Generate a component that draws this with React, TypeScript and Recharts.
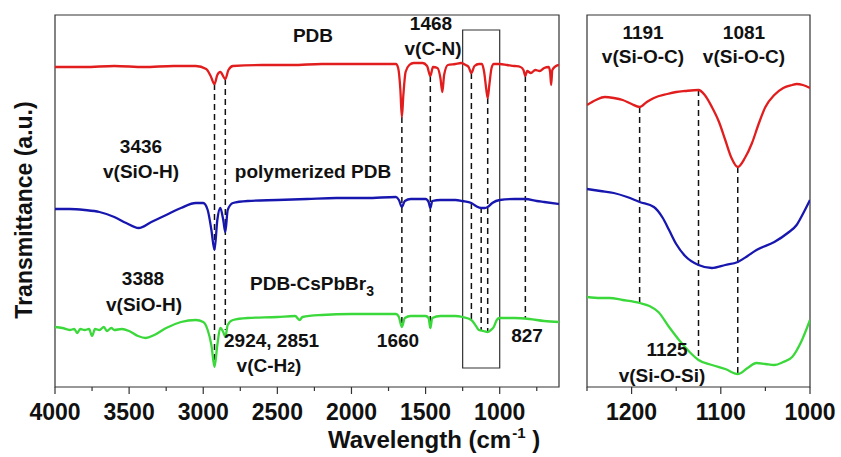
import { LineChart, Line, XAxis, YAxis, ReferenceArea, ReferenceLine } from 'recharts';

// FTIR spectra, wavenumber (cm-1) vs transmittance (a.u., offset per trace)
const pdbFull = [
  [4000, 320], [3800, 320], [3600, 321], [3400, 320], [3200, 321], [3050, 321], [2980, 318], [2950, 311],
  [2924, 303], [2905, 312], [2885, 315], [2851, 308], [2830, 317], [2800, 321], [2600, 322], [2400, 322],
  [2200, 323], [2000, 323], [1800, 323], [1700, 323], [1685, 319], [1670, 297], [1660, 270], [1650, 292],
  [1635, 315], [1610, 322], [1580, 324], [1520, 324], [1490, 321], [1468, 311], [1450, 320], [1420, 319],
  [1400, 309], [1387, 295], [1375, 312], [1350, 322], [1300, 323], [1260, 324], [1230, 322], [1210, 320],
  [1191, 314], [1170, 321], [1140, 323], [1120, 323], [1105, 315], [1090, 297], [1081, 289], [1070, 302],
  [1055, 319], [1040, 323], [1000, 323], [950, 322], [900, 321], [860, 320], [840, 317], [827, 311],
  [815, 316], [790, 314], [760, 317], [730, 316], [700, 319], [670, 320], [660, 315], [653, 302],
  [645, 317], [620, 321], [600, 322],
];

const polyFull = [
  [4000, 178], [3900, 178], [3800, 177], [3700, 175], [3600, 170], [3520, 164], [3436, 159], [3350, 165],
  [3250, 172], [3150, 179], [3050, 184], [3000, 184], [2970, 177], [2945, 157], [2924, 137], [2905, 167],
  [2885, 179], [2865, 167], [2851, 155], [2835, 177], [2800, 184], [2700, 186], [2500, 187], [2300, 188],
  [2100, 189], [1900, 189], [1700, 190], [1680, 187], [1660, 180], [1640, 186], [1600, 188], [1500, 188],
  [1480, 185], [1468, 179], [1455, 186], [1400, 187], [1300, 187], [1250, 186], [1191, 184], [1160, 181],
  [1125, 179], [1100, 179], [1081, 180], [1050, 184], [1000, 187], [900, 188], [827, 188], [750, 186],
  [700, 185], [600, 183],
];

const csFull = [
  [4000, 60], [3950, 59], [3900, 57], [3870, 58], [3850, 54], [3830, 58], [3800, 57], [3770, 58],
  [3750, 51], [3730, 58], [3700, 57], [3670, 60], [3650, 56], [3620, 59], [3600, 57], [3550, 58],
  [3500, 56], [3440, 51], [3388, 49], [3330, 52], [3250, 59], [3150, 65], [3050, 67], [3000, 65],
  [2970, 57], [2945, 42], [2924, 20], [2905, 42], [2885, 59], [2865, 55], [2851, 50], [2835, 62],
  [2800, 67], [2700, 69], [2500, 70], [2380, 71], [2350, 67], [2330, 70], [2200, 72], [2000, 73],
  [1800, 73], [1700, 73], [1680, 70], [1660, 60], [1640, 69], [1600, 71], [1500, 71], [1480, 69],
  [1468, 59], [1455, 69], [1400, 71], [1300, 71], [1250, 70], [1191, 67], [1160, 61], [1140, 57],
  [1110, 56], [1081, 55], [1060, 57], [1040, 60], [1020, 67], [1000, 69], [900, 69], [800, 68],
  [700, 66], [600, 65],
];

const pdbZoom = [
  [1250, 282], [1240, 287], [1230, 290], [1220, 289], [1210, 287], [1200, 283], [1191, 280], [1183, 285],
  [1175, 289], [1160, 293], [1150, 295], [1140, 296], [1125, 297], [1118, 292], [1110, 280], [1102, 265],
  [1095, 247], [1088, 229], [1081, 220], [1073, 229], [1065, 244], [1058, 262], [1050, 280], [1040, 292],
  [1030, 299], [1020, 302], [1015, 303], [1008, 302], [1000, 299],
];

const polyZoom = [
  [1250, 198], [1235, 196], [1220, 194], [1205, 190], [1191, 185], [1175, 180], [1165, 169], [1158, 157],
  [1150, 143], [1140, 131], [1125, 122], [1110, 119], [1095, 122], [1081, 125], [1070, 131], [1060, 137],
  [1040, 145], [1025, 154], [1015, 162], [1008, 173], [1000, 187],
];

const csZoom = [
  [1250, 90], [1235, 89], [1225, 89], [1210, 87], [1191, 84], [1180, 81], [1170, 75], [1158, 60],
  [1145, 45], [1135, 35], [1125, 27], [1110, 22], [1095, 18], [1081, 13], [1070, 19], [1060, 24],
  [1050, 23], [1040, 22], [1030, 25], [1020, 30], [1010, 45], [1000, 67],
];

// dashed peak markers: [wavenumber, top, bottom]
const fullMarks = [
  [2924, 303, 25], [2851, 308, 57], [1660, 270, 60], [1468, 311, 59],
  [1191, 314, 67], [1125, 180, 57], [1081, 289, 55], [827, 311, 69],
];
const zoomMarks = [[1191, 280, 84], [1125, 297, 27], [1081, 220, 13]];

const fullTicks = [4000, 3750, 3500, 3250, 3000, 2750, 2500, 2250, 2000, 1750, 1500, 1250, 1000, 750];
const zoomTicks = [1250, 1200, 1150, 1100, 1050, 1000];

const RED = '#e11d1d';
const BLUE = '#1717b0';
const GREEN = '#3ad83a';
const FONT = '"Liberation Sans", Arial, sans-serif';

const toRows = (arr: number[][]) => arr.map(([wn, t]) => ({ wn, t }));

const makeTick = (major: number) => (props: any) => {
  const { x, y, payload } = props;
  const isMajor = payload.value % major === 0;
  return (
    <g>
      <line x1={x} y1={y} x2={x} y2={y + (isMajor ? 7 : 4)} stroke="#333" strokeWidth={1.2} />
      {isMajor && (
        <text x={x} y={y + 33} textAnchor="middle" fontSize={23} fontWeight="bold" fill="#111" fontFamily={FONT}>
          {payload.value}
        </text>
      )}
    </g>
  );
};

function Panel({ width, margin, domain, ticks, major, series, marks, box }: any) {
  return (
    <LineChart width={width} height={457} margin={margin}>
      <XAxis
        dataKey="wn"
        type="number"
        domain={domain}
        reversed
        ticks={ticks}
        interval={0}
        allowDataOverflow
        axisLine={false}
        tickLine={false}
        tickSize={0}
        tickMargin={0}
        height={70}
        tick={makeTick(major)}
      />
      <YAxis hide domain={[0, 372]} type="number" allowDataOverflow />
      <ReferenceArea x1={domain[0]} x2={domain[1]} y1={0} y2={372} fill="none" stroke="#333" strokeWidth={1.2} />
      {box && (
        <ReferenceArea x1={box[0]} x2={box[1]} y1={box[2]} y2={box[3]} fill="none" stroke="#333" strokeWidth={1.2} />
      )}
      {marks.map(([wn, top, bottom]: number[], i: number) => (
        <ReferenceLine
          key={i}
          segment={[{ x: wn, y: top }, { x: wn, y: bottom }]}
          stroke="#111"
          strokeWidth={1.5}
          strokeDasharray="6 4"
        />
      ))}
      {series.map(([data, color]: any, i: number) => (
        <Line
          key={i}
          data={toRows(data)}
          dataKey="t"
          type="monotone"
          stroke={color}
          strokeWidth={2.3}
          dot={false}
          isAnimationActive={false}
        />
      ))}
    </LineChart>
  );
}

const labelStyle = { fontSize: 19, fontWeight: 'bold' as const, fill: '#111', fontFamily: FONT };

export default function App() {
  return (
    <div style={{ position: 'absolute', left: 0, top: 0, width: 841, height: 457, background: '#fff' }}>
      <div style={{ position: 'absolute', left: 0, top: 0 }}>
        <Panel
          width={600}
          margin={{ top: 15, right: 41, bottom: 0, left: 55 }}
          domain={[600, 4000]}
          ticks={fullTicks}
          major={500}
          series={[[pdbFull, RED], [polyFull, BLUE], [csFull, GREEN]]}
          marks={fullMarks}
          box={[1250, 1000, 19, 357]}
        />
      </div>
      <div style={{ position: 'absolute', left: 560, top: 0 }}>
        <Panel
          width={281}
          margin={{ top: 15, right: 31, bottom: 0, left: 27 }}
          domain={[1000, 1250]}
          ticks={zoomTicks}
          major={100}
          series={[[pdbZoom, RED], [polyZoom, BLUE], [csZoom, GREEN]]}
          marks={zoomMarks}
        />
      </div>
      <svg width={841} height={457} style={{ position: 'absolute', left: 0, top: 0, pointerEvents: 'none' }}>
        <g {...labelStyle} textAnchor="middle">
          <text x={313} y={42}>PDB</text>
          <text x={431} y={30}>1468</text>
          <text x={433} y={55}>v(C-N)</text>
          <text x={141} y={153}>3436</text>
          <text x={141} y={178}>v(SiO-H)</text>
          <text x={313} y={178}>polymerized PDB</text>
          <text x={143} y={285}>3388</text>
          <text x={144} y={311}>v(SiO-H)</text>
          <text x={250} y={290} textAnchor="start">
            PDB-CsPbBr<tspan fontSize={14} dy={6}>3</tspan>
          </text>
          <text x={224} y={347} textAnchor="start">2924, 2851</text>
          <text x={269} y={372}>
            v(C-H<tspan fontSize={14}>2</tspan>)
          </text>
          <text x={398} y={347}>1660</text>
          <text x={527} y={342}>827</text>
          <text x={643} y={39}>1191</text>
          <text x={643} y={63}>v(Si-O-C)</text>
          <text x={744} y={39}>1081</text>
          <text x={744} y={63}>v(Si-O-C)</text>
          <text x={667} y={356}>1125</text>
          <text x={662} y={382}>v(Si-O-Si)</text>
        </g>
        <text x={328} y={448} fontSize={24} fontWeight="bold" fill="#111" fontFamily={FONT}>
          Wavelength (cm<tspan fontSize={15} dx={1} dy={-10}>-1</tspan>
          <tspan dy={10}> )</tspan>
        </text>
        <text
          x={0}
          y={0}
          transform="translate(32, 210) rotate(-90)"
          textAnchor="middle"
          fontSize={23}
          fontWeight="bold"
          fill="#111"
          fontFamily={FONT}
        >
          Transmittance (a.u.)
        </text>
      </svg>
    </div>
  );
}
